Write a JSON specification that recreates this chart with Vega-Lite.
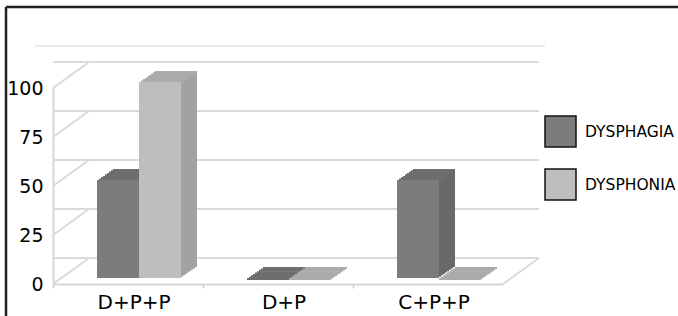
{
  "$schema": "https://vega.github.io/schema/vega-lite/v6.json",
  "width": 450,
  "height": 196,
  "autosize": {"type": "none"},
  "padding": {"left": 53, "top": 88, "right": 175, "bottom": 32},
  "background": "white",
  "config": {"view": {"stroke": null}, "font": "DejaVu Sans"},
  "datasets": {
    "bars": [
      {"group": "D+P+P", "series": "DYSPHAGIA", "value": 50},
      {"group": "D+P+P", "series": "DYSPHONIA", "value": 100},
      {"group": "D+P", "series": "DYSPHAGIA", "value": 0},
      {"group": "D+P", "series": "DYSPHONIA", "value": 0},
      {"group": "C+P+P", "series": "DYSPHAGIA", "value": 50},
      {"group": "C+P+P", "series": "DYSPHONIA", "value": 0}
    ],
    "ticks": [{"v": 0}, {"v": 25}, {"v": 50}, {"v": 75}, {"v": 100}]
  },
  "layer": [
    {
      "data": {"name": "bars"},
      "mark": {"type": "bar", "opacity": 0},
      "encoding": {
        "x": {
          "field": "group", "type": "nominal", "title": null,
          "scale": {"domain": ["D+P+P", "D+P", "C+P+P"], "paddingInner": 0, "paddingOuter": 0},
          "axis": {"title": null, "bandPosition": 0, "labelOffset": 6, "labelAngle": 0, "labelFont": "DejaVu Sans", "labelFontSize": 20, "labelColor": "#000000", "labelPadding": 4, "tickSize": 4, "tickColor": "#c8c8c8", "tickWidth": 1.5, "domainColor": "#d6d6d6", "domainWidth": 2, "grid": false}
        },
        "y": {
          "field": "value", "type": "quantitative", "title": null,
          "scale": {"domain": [0, 100], "nice": false},
          "axis": {"title": null, "values": [0, 25, 50, 75, 100], "grid": false, "ticks": false, "labelPadding": 10, "labelFont": "DejaVu Sans", "labelFontSize": 19, "labelColor": "#000000", "domainColor": "#d6d6d6", "domainWidth": 2}
        }
      }
    },
    {
      "data": {"values": [{}]},
      "mark": {"type": "rule", "color": "#222222", "strokeWidth": 2.5, "xOffset": -47, "x2Offset": 175},
      "encoding": {
        "x": {"datum": "D+P+P", "type": "nominal", "bandPosition": 0},
        "x2": {"datum": "C+P+P", "bandPosition": 1},
        "y": {"datum": 141.3, "type": "quantitative"}
      }
    },
    {
      "data": {"values": [{}]},
      "mark": {"type": "rule", "color": "#222222", "strokeWidth": 2.5, "xOffset": -47, "x2Offset": -47},
      "encoding": {
        "x": {"datum": "D+P+P", "type": "nominal", "bandPosition": 0},
        "x2": {"datum": "D+P+P", "bandPosition": 0},
        "y": {"datum": 141.3, "type": "quantitative"},
        "y2": {"datum": -17}
      }
    },
    {
      "data": {"values": [{}]},
      "mark": {"type": "rule", "color": "#e4e4e4", "strokeWidth": 1.5, "xOffset": -18, "x2Offset": 42},
      "encoding": {
        "x": {"datum": "D+P+P", "type": "nominal", "bandPosition": 0},
        "x2": {"datum": "C+P+P", "bandPosition": 1},
        "y": {"datum": 121.4, "type": "quantitative"}
      }
    },
    {
      "data": {"name": "ticks"},
      "mark": {"type": "rule", "color": "#dadada", "strokeWidth": 2, "xOffset": 36, "x2Offset": 36, "yOffset": -26, "y2Offset": -26},
      "encoding": {
        "y": {"field": "v", "type": "quantitative", "title": null}
      }
    },
    {
      "data": {"name": "ticks"},
      "mark": {"type": "rule", "color": "#dadada", "strokeWidth": 2, "x2Offset": 36, "y2Offset": -26},
      "encoding": {
        "x": {"datum": "D+P+P", "type": "nominal", "bandPosition": 0},
        "x2": {"datum": "D+P+P", "bandPosition": 0},
        "y": {"field": "v", "type": "quantitative", "title": null},
        "y2": {"field": "v"}
      }
    },
    {
      "data": {"values": [{}]},
      "mark": {"type": "rule", "color": "#dadada", "strokeWidth": 2, "x2Offset": 36, "y2Offset": -26},
      "encoding": {
        "x": {"datum": "C+P+P", "type": "nominal", "bandPosition": 1},
        "x2": {"datum": "C+P+P", "bandPosition": 1},
        "y": {"datum": 0, "type": "quantitative"},
        "y2": {"datum": 0}
      }
    },
    {
      "data": {"name": "bars"},
      "encoding": {
        "x": {"field": "group", "type": "nominal", "title": null},
        "y": {"field": "value", "type": "quantitative", "title": null}
      },
      "layer": [
        {
          "transform": [{"filter": "datum.series === 'DYSPHAGIA'"}],
          "layer": [
            {"mark": {"type": "bar", "width": {"band": 0.28}, "color": "#69696b", "xOffset": -8, "yOffset": -7.375, "y2Offset": -7.375}},
            {"mark": {"type": "bar", "width": {"band": 0.28}, "color": "#69696b", "xOffset": -6, "yOffset": -8.75, "y2Offset": -8.75}},
            {"mark": {"type": "bar", "width": {"band": 0.28}, "color": "#69696b", "xOffset": -4, "yOffset": -10.125, "y2Offset": -10.125}},
            {"mark": {"type": "bar", "width": {"band": 0.28}, "color": "#69696b", "xOffset": -2, "yOffset": -11.5, "y2Offset": -11.5}},
            {"mark": {"type": "bar", "width": {"band": 0.28}, "color": "#69696b", "xOffset": 0, "yOffset": -12.875, "y2Offset": -12.875}},
            {"mark": {"type": "bar", "width": {"band": 0.28}, "color": "#69696b", "xOffset": 2, "yOffset": -14.25, "y2Offset": -14.25}},
            {"mark": {"type": "bar", "width": {"band": 0.28}, "color": "#69696b", "xOffset": 4, "yOffset": -15.625, "y2Offset": -15.625}},
            {"mark": {"type": "bar", "width": {"band": 0.28}, "color": "#69696b", "xOffset": 6, "yOffset": -17, "y2Offset": -17}}
          ]
        },
        {
          "transform": [{"filter": "datum.series === 'DYSPHONIA'"}],
          "layer": [
            {"mark": {"type": "bar", "width": {"band": 0.28}, "color": "#a2a2a2", "xOffset": 34, "yOffset": -7.375, "y2Offset": -7.375}},
            {"mark": {"type": "bar", "width": {"band": 0.28}, "color": "#a2a2a2", "xOffset": 36, "yOffset": -8.75, "y2Offset": -8.75}},
            {"mark": {"type": "bar", "width": {"band": 0.28}, "color": "#a2a2a2", "xOffset": 38, "yOffset": -10.125, "y2Offset": -10.125}},
            {"mark": {"type": "bar", "width": {"band": 0.28}, "color": "#a2a2a2", "xOffset": 40, "yOffset": -11.5, "y2Offset": -11.5}},
            {"mark": {"type": "bar", "width": {"band": 0.28}, "color": "#a2a2a2", "xOffset": 42, "yOffset": -12.875, "y2Offset": -12.875}},
            {"mark": {"type": "bar", "width": {"band": 0.28}, "color": "#a2a2a2", "xOffset": 44, "yOffset": -14.25, "y2Offset": -14.25}},
            {"mark": {"type": "bar", "width": {"band": 0.28}, "color": "#a2a2a2", "xOffset": 46, "yOffset": -15.625, "y2Offset": -15.625}},
            {"mark": {"type": "bar", "width": {"band": 0.28}, "color": "#a2a2a2", "xOffset": 48, "yOffset": -17, "y2Offset": -17}}
          ]
        },
        {
          "transform": [{"filter": "datum.series === 'DYSPHAGIA'"}],
          "encoding": {"y2": {"field": "value"}},
          "layer": [
            {"mark": {"type": "bar", "width": {"band": 0.28}, "color": "#6e6e70", "xOffset": -10, "yOffset": -6, "y2Offset": -4}},
            {"mark": {"type": "bar", "width": {"band": 0.28}, "color": "#6e6e70", "xOffset": -8, "yOffset": -7.375, "y2Offset": -5.375}},
            {"mark": {"type": "bar", "width": {"band": 0.28}, "color": "#6e6e70", "xOffset": -6, "yOffset": -8.75, "y2Offset": -6.75}},
            {"mark": {"type": "bar", "width": {"band": 0.28}, "color": "#6e6e70", "xOffset": -4, "yOffset": -10.125, "y2Offset": -8.125}},
            {"mark": {"type": "bar", "width": {"band": 0.28}, "color": "#6e6e70", "xOffset": -2, "yOffset": -11.5, "y2Offset": -9.5}},
            {"mark": {"type": "bar", "width": {"band": 0.28}, "color": "#6e6e70", "xOffset": 0, "yOffset": -12.875, "y2Offset": -10.875}},
            {"mark": {"type": "bar", "width": {"band": 0.28}, "color": "#6e6e70", "xOffset": 2, "yOffset": -14.25, "y2Offset": -12.25}},
            {"mark": {"type": "bar", "width": {"band": 0.28}, "color": "#6e6e70", "xOffset": 4, "yOffset": -15.625, "y2Offset": -13.625}},
            {"mark": {"type": "bar", "width": {"band": 0.28}, "color": "#6e6e70", "xOffset": 6, "yOffset": -17, "y2Offset": -15}}
          ]
        },
        {
          "transform": [{"filter": "datum.series === 'DYSPHONIA'"}],
          "encoding": {"y2": {"field": "value"}},
          "layer": [
            {"mark": {"type": "bar", "width": {"band": 0.28}, "color": "#ababab", "xOffset": 32, "yOffset": -6, "y2Offset": -4}},
            {"mark": {"type": "bar", "width": {"band": 0.28}, "color": "#ababab", "xOffset": 34, "yOffset": -7.375, "y2Offset": -5.375}},
            {"mark": {"type": "bar", "width": {"band": 0.28}, "color": "#ababab", "xOffset": 36, "yOffset": -8.75, "y2Offset": -6.75}},
            {"mark": {"type": "bar", "width": {"band": 0.28}, "color": "#ababab", "xOffset": 38, "yOffset": -10.125, "y2Offset": -8.125}},
            {"mark": {"type": "bar", "width": {"band": 0.28}, "color": "#ababab", "xOffset": 40, "yOffset": -11.5, "y2Offset": -9.5}},
            {"mark": {"type": "bar", "width": {"band": 0.28}, "color": "#ababab", "xOffset": 42, "yOffset": -12.875, "y2Offset": -10.875}},
            {"mark": {"type": "bar", "width": {"band": 0.28}, "color": "#ababab", "xOffset": 44, "yOffset": -14.25, "y2Offset": -12.25}},
            {"mark": {"type": "bar", "width": {"band": 0.28}, "color": "#ababab", "xOffset": 46, "yOffset": -15.625, "y2Offset": -13.625}},
            {"mark": {"type": "bar", "width": {"band": 0.28}, "color": "#ababab", "xOffset": 48, "yOffset": -17, "y2Offset": -15}}
          ]
        },
        {
          "transform": [{"filter": "datum.series === 'DYSPHAGIA'"}],
          "mark": {"type": "bar", "width": {"band": 0.28}, "xOffset": -10, "yOffset": -6, "y2Offset": -6},
          "encoding": {
            "color": {
              "field": "series", "type": "nominal",
              "scale": {"domain": ["DYSPHAGIA", "DYSPHONIA"], "range": ["#7c7c7e", "#bebebe"]},
              "legend": {"orient": "none", "legendX": 491, "legendY": 27, "title": null, "symbolType": "square", "symbolSize": 961, "symbolStrokeColor": "#111111", "symbolStrokeWidth": 1.5, "labelFont": "DejaVu Sans", "labelFontSize": 15.5, "labelColor": "#000000", "labelOffset": 8, "rowPadding": 16, "padding": 0}
            }
          }
        },
        {
          "transform": [{"filter": "datum.series === 'DYSPHONIA'"}],
          "mark": {"type": "bar", "width": {"band": 0.28}, "xOffset": 32, "yOffset": -6, "y2Offset": -6},
          "encoding": {
            "color": {"field": "series", "type": "nominal"}
          }
        }
      ]
    }
  ]
}
